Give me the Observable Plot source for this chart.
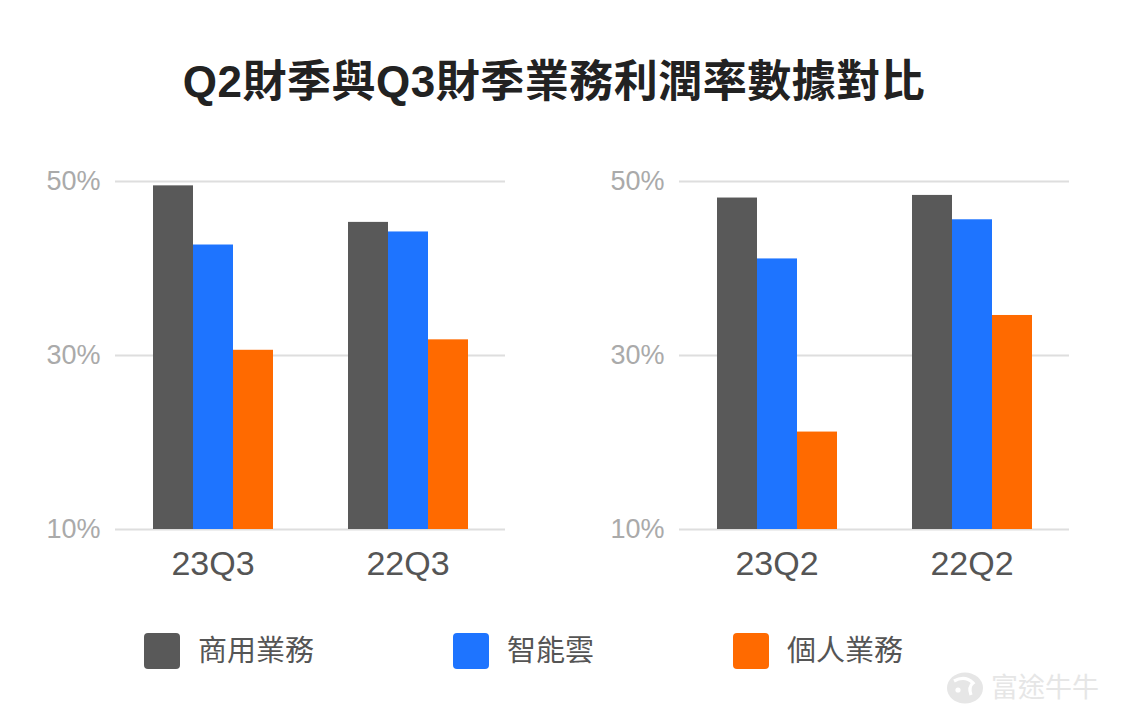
<!DOCTYPE html>
<html>
<head>
<meta charset="utf-8">
<script src="https://cdn.jsdelivr.net/npm/d3@7"></script>
<script src="https://cdn.jsdelivr.net/npm/@observablehq/plot@0.6"></script>
<style>
  html, body { margin: 0; padding: 0; background: #fff; }
  #page {
    position: relative; width: 1126px; height: 727px; overflow: hidden; background: #fff;
    font-family: "Liberation Sans", "Noto Sans CJK TC", sans-serif;
  }
  #title {
    position: absolute; left: 0; top: 57px; width: 1108px; text-align: center;
    font-family: "Liberation Sans", "Noto Sans CJK TC", sans-serif;
    font-weight: 700; font-size: 44px; letter-spacing: 0.5px; color: #222; line-height: 50px;
  }
  .panel { position: absolute; top: 150px; }
  .panel svg { overflow: visible; }
  #legend { position: absolute; left: 144px; top: 633px; display: flex; align-items: center; gap: 139px; }
  .item { display: flex; align-items: center; gap: 18px; font-size: 29px; color: #555; line-height: 36px; }
  .swatch { width: 36px; height: 36px; border-radius: 4px; }
  #mark { position: absolute; left: 946px; top: 672px; display: flex; align-items: center; gap: 7px;
    font-size: 27px; color: #e6e6e6; line-height: 30px; }
</style>
</head>
<body>
<div id="page">
  <div id="title">Q2財季與Q3財季業務利潤率數據對比</div>
  <div class="panel" id="left" style="left:0px"></div>
  <div class="panel" id="right" style="left:560px"></div>
  <div id="legend"></div>
  <div id="mark">
    <svg width="38" height="32" viewBox="0 0 38 32">
      <ellipse cx="19" cy="16" rx="18" ry="15.5" fill="#e6e6e6"/>
      <path d="M8 9 Q19 3 27 11 Q22 15 25 23" fill="none" stroke="#fff" stroke-width="3.2"/>
      <circle cx="12" cy="18" r="2.6" fill="#fff"/>
    </svg>
    <span>富途牛牛</span>
  </div>
</div>
<script>
// Business lines and their colours
const series = ["商用業務", "智能雲", "個人業務"];
const colors = ["#595959", "#1e74ff", "#ff6a00"];

// Quarters shown in each panel
const quartersQ3 = ["23Q3", "22Q3"];
const quartersQ2 = ["23Q2", "22Q2"];

// Profit margin (%) per business line, in series order
const margin23Q3 = [49.5, 42.7, 30.6];
const margin22Q3 = [45.3, 44.2, 31.8];
const margin23Q2 = [48.1, 41.1, 21.2];
const margin22Q2 = [48.4, 45.6, 34.6];

// Axis ticks
const yTicks = [10, 30, 50];
const yDomain = [10, 50];

function rows(quarters, valueLists) {
  return quarters.flatMap((q, qi) =>
    series.map((s, si) => ({quarter: q, series: s, value: valueLists[qi][si]}))
  );
}

function panel(quarters, valueLists, marginLeft) {
  const data = rows(quarters, valueLists);
  const marginRight = 15;
  return Plot.plot({
    width: marginLeft + 390 + marginRight,
    height: 449,
    marginTop: 31,
    marginBottom: 70,
    marginLeft,
    marginRight,
    style: {background: "transparent", fontFamily: "'Liberation Sans', 'Noto Sans CJK TC', sans-serif"},
    fx: {domain: quarters, padding: 0, axis: null},
    x: {domain: series, paddingInner: 0, paddingOuter: 0.9, axis: null},
    y: {domain: yDomain, axis: null},
    color: {domain: series, range: colors},
    marks: [
      Plot.ruleY(yTicks, {stroke: "#dedede", strokeWidth: 2}),
      Plot.axisY({ticks: yTicks, tickFormat: d => d + "%", tickSize: 0, tickPadding: 15,
        fontSize: 27, fill: "#aaa", label: null}),
      Plot.barY(data, {fx: "quarter", x: "series", y1: yDomain[0], y2: "value", fill: "series"}),
      Plot.text(quarters, {fx: d => d, text: d => d, frameAnchor: "bottom", dy: 45,
        fontSize: 34, fill: "#555"})
    ]
  });
}

document.getElementById("left").appendChild(panel(quartersQ3, [margin23Q3, margin22Q3], 115));
document.getElementById("right").appendChild(panel(quartersQ2, [margin23Q2, margin22Q2], 119));

// Legend
const legend = document.getElementById("legend");
series.forEach((s, i) => {
  const item = document.createElement("div");
  item.className = "item";
  const sw = document.createElement("div");
  sw.className = "swatch";
  sw.style.background = colors[i];
  const label = document.createElement("span");
  label.textContent = s;
  item.append(sw, label);
  legend.appendChild(item);
});
</script>
</body>
</html>
